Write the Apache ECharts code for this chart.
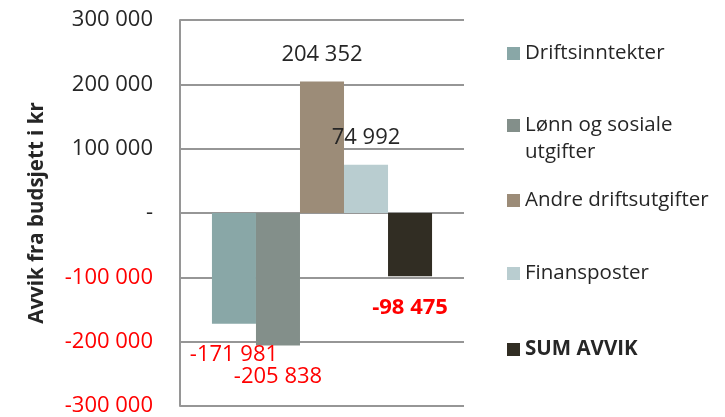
<!DOCTYPE html>
<html>
<head>
<meta charset="utf-8">
<script src="https://cdn.jsdelivr.net/npm/echarts@6/dist/echarts.min.js"></script>
<style>
  html, body { margin: 0; padding: 0; background: #fff; }
  #chart { width: 725px; height: 417px; }
</style>
</head>
<body>
<div id="chart"></div>
<script>
const categories = ['']
const seriesNames = ['Driftsinntekter', 'Lønn og sosiale utgifter', 'Andre driftsutgifter', 'Finansposter', 'SUM AVVIK']
const seriesValues = [-171981, -205838, 204352, 74992, -98475]
const yTicks = [-300000, -200000, -100000, 0, 100000, 200000, 300000]

const colors = ['#89a7a7', '#838f8a', '#9c8c78', '#b9cdd0', '#312d23']
const font = 'Open Sans'

const fmt = (v) => {
    if (v === 0) return '-'
    const s = Math.abs(v).toString().replace(/\B(?=(\d{3})+(?!\d))/g, ' ')
    return (v < 0 ? '-' : '') + s
}

const chart = echarts.init(document.getElementById('chart'))

const series = seriesNames.map((name, i) => {
    const v = seriesValues[i]
    const neg = v < 0
    const isSum = i === seriesNames.length - 1
    return {
        name: name,
        type: 'bar',
        data: [v],
        barGap: 0,
        barCategoryGap: '22.5%',
        itemStyle: { color: colors[i] },
        label: {
            show: true,
            position: neg ? 'bottom' : 'top',
            distance: neg ? 20 : 16,
            formatter: (p) => fmt(p.value),
            fontFamily: font,
            fontSize: 22,
            fontWeight: isSum ? 'bold' : 'normal',
            color: neg ? '#ff0000' : '#262626'
        }
    }
})

// one legend per item so the spacing can follow the picture
const legendTops = [40, 112, 187, 260, 336]
const legends = seriesNames.map((name, i) => {
    const two = i === 1
    return {
        data: [name],
        orient: 'vertical',
        left: 507,
        top: legendTops[i],
        itemWidth: 13,
        itemHeight: two ? 40 : 13,
        padding: 0,
        // square on the first line of the wrapped name
        icon: two ? 'path://M0 0L13 0L13 13L0 13Z M0 40L0 40' : 'rect',
        formatter: two ? 'Lønn og sosiale\nutgifter' : '{name}',
        textStyle: {
            fontFamily: font,
            fontSize: 20.5,
            lineHeight: 27,
            color: '#262626',
            fontWeight: i === seriesNames.length - 1 ? 'bold' : 'normal'
        },
        selectedMode: false
    }
})

const option = {
    animation: false,
    textStyle: { fontFamily: font },
    grid: { left: 180, right: 261, top: 20, bottom: 11 },
    legend: legends,
    xAxis: {
        type: 'category',
        data: categories,
        axisLine: { show: false },
        axisTick: { show: false },
        axisLabel: { show: false }
    },
    yAxis: {
        type: 'value',
        min: yTicks[0],
        max: yTicks[yTicks.length - 1],
        interval: 100000,
        name: 'Avvik fra budsjett i kr',
        nameLocation: 'middle',
        nameGap: 132,
        nameTextStyle: { fontFamily: font, fontSize: 20.5, fontWeight: 'bold', color: '#262626' },
        axisLine: { show: true, lineStyle: { color: '#969696', width: 2 } },
        axisTick: { show: false },
        axisLabel: {
            margin: 27,
            fontFamily: font,
            fontSize: 22,
            formatter: fmt,
            color: (v) => (Number(v) < 0 ? '#ff0000' : '#262626')
        },
        splitLine: { lineStyle: { color: '#969696', width: 2 } }
    },
    series: series
}

chart.setOption(option)
</script>
</body>
</html>
